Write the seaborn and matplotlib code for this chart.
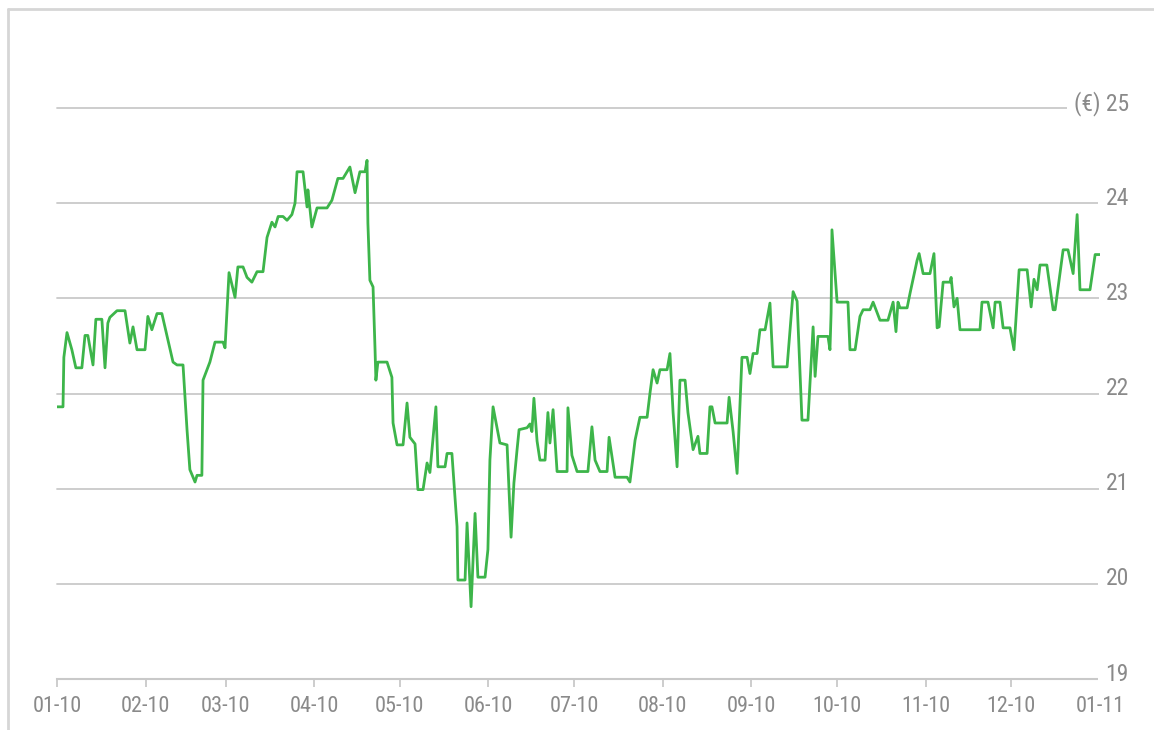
import pandas as pd
import matplotlib.pyplot as plt
import matplotlib.dates as mdates
import seaborn as sns

# days since 2010-01-01 and closing price (EUR)
days = [
    0, 2.1, 2.4, 3.5, 5.2, 6.6, 8.7, 9.8, 10.8, 12.6, 13.6, 15.7, 16.8, 17.8, 18.5,
    21.0, 23.8, 25.5, 26.6, 28.0, 30.8, 31.8, 33.2, 35.0, 36.7, 40.6, 42.0, 44.1,
    45.5, 46.5, 48.3, 49.0, 50.7, 51.1, 53.5, 55.3, 58.1, 58.8, 60.2, 62.3, 63.3,
    65.1, 66.5, 68.2, 70.0, 72.1, 73.5, 75.2, 76.3, 77.4, 79.1, 80.5, 82.2, 83.3,
    84.0, 86.1, 87.5, 87.8, 89.2, 91.0, 94.5, 96.2, 98.3, 100.1, 102.5, 104.3,
    106.0, 107.8, 108.5, 108.8, 109.5, 110.6, 111.3, 111.6, 112.3, 115.5, 117.2,
    117.6, 119.0, 121.1, 122.5, 123.5, 125.3, 126.3, 128.1, 129.5, 130.5, 132.6,
    133.3, 135.8, 136.5, 138.2, 140.0, 140.3, 142.8, 143.5, 144.9, 146.3, 147.3,
    149.8, 150.8, 151.5, 152.6, 155.0, 157.5, 158.9, 159.9, 161.0, 161.7, 164.5,
    165.5, 166.2, 166.9, 168.0, 169.0, 170.8, 171.8, 172.5, 173.6, 175.0, 178.5,
    178.8, 180.2, 182.0, 185.8, 187.2, 188.3, 190.0, 192.5, 193.2, 195.3, 199.5,
    200.5, 202.3, 204.0, 206.5, 207.5, 208.6, 210.0, 211.0, 213.5, 214.5, 215.6,
    217.0, 218.0, 219.8, 220.8, 222.6, 224.3, 225.0, 227.5, 228.5, 229.2, 230.3,
    234.5, 235.2, 236.6, 238.0, 239.7, 241.5, 242.5, 243.6, 245.0, 246.0, 247.8,
    249.5, 250.6, 255.5, 257.6, 259.0, 260.7, 262.8, 264.6, 265.3, 266.3, 269.8,
    270.5, 270.9, 271.2, 273.0, 276.8, 277.5, 279.3, 281.0, 282.1, 284.5, 285.6,
    288.0, 290.8, 292.6, 293.6, 294.3, 295.0, 297.5, 298.5, 301.0, 301.7, 303.1,
    305.5, 306.9, 308.0, 308.7, 310.1, 312.5, 312.9, 313.9, 315.0, 316.0, 323.0,
    323.7, 325.8, 327.6, 328.3, 330.0, 331.1, 333.5, 334.9, 336.7, 339.5, 340.9,
    341.9, 343.0, 344.0, 346.4, 348.6, 349.3, 352.1, 353.8, 355.6, 357.0, 358.0,
    361.5, 363.3, 365.0,
]
price = [
    21.86, 21.86, 22.38, 22.64, 22.46, 22.27, 22.27, 22.61, 22.61, 22.30, 22.78,
    22.78, 22.27, 22.74, 22.80, 22.87, 22.87, 22.53, 22.70, 22.46, 22.46, 22.81,
    22.67, 22.84, 22.84, 22.33, 22.30, 22.30, 21.62, 21.20, 21.07, 21.14, 21.14,
    22.14, 22.33, 22.54, 22.54, 22.48, 23.27, 23.01, 23.33, 23.33, 23.22, 23.17,
    23.28, 23.28, 23.64, 23.80, 23.75, 23.86, 23.86, 23.82, 23.88, 24.00, 24.33,
    24.33, 23.96, 24.14, 23.75, 23.95, 23.95, 24.03, 24.26, 24.26, 24.38, 24.11,
    24.33, 24.33, 24.45, 23.79, 23.19, 23.12, 22.46, 22.14, 22.33, 22.33, 22.17,
    21.69, 21.46, 21.46, 21.90, 21.54, 21.47, 20.99, 20.99, 21.27, 21.17, 21.86,
    21.23, 21.23, 21.37, 21.37, 20.60, 20.04, 20.04, 20.64, 19.76, 20.74, 20.07,
    20.07, 20.36, 21.30, 21.86, 21.48, 21.46, 20.49, 21.06, 21.41, 21.62, 21.64,
    21.68, 21.60, 21.95, 21.50, 21.30, 21.30, 21.80, 21.48, 21.83, 21.18, 21.18,
    21.85, 21.35, 21.18, 21.18, 21.65, 21.30, 21.18, 21.18, 21.54, 21.12, 21.12,
    21.07, 21.51, 21.75, 21.75, 22.00, 22.25, 22.11, 22.25, 22.25, 22.42, 21.80,
    21.23, 22.14, 22.14, 21.80, 21.41, 21.55, 21.37, 21.37, 21.86, 21.86, 21.69,
    21.69, 21.96, 21.60, 21.16, 22.38, 22.38, 22.21, 22.42, 22.42, 22.67, 22.67,
    22.95, 22.28, 22.28, 23.07, 22.97, 21.72, 21.72, 22.70, 22.18, 22.60, 22.60,
    22.46, 22.85, 23.72, 22.96, 22.96, 22.46, 22.46, 22.81, 22.88, 22.88, 22.96,
    22.77, 22.77, 22.96, 22.65, 22.96, 22.90, 22.90, 23.05, 23.40, 23.47, 23.26,
    23.26, 23.47, 22.69, 22.70, 23.17, 23.17, 23.22, 22.91, 23.00, 22.67, 22.67,
    22.96, 22.96, 22.69, 22.96, 22.96, 22.69, 22.69, 22.46, 23.30, 23.30, 22.91,
    23.20, 23.09, 23.35, 23.35, 22.88, 22.88, 23.51, 23.51, 23.26, 23.88, 23.09,
    23.09, 23.46, 23.46,
]
y_ticks = [19, 20, 21, 22, 23, 24, 25]
y_labels = ['19', '20', '21', '22', '23', '24', '(€) 25']

sns.set_style('white')
plt.rcParams['font.family'] = ['Roboto Condensed', 'DejaVu Sans']
plt.rcParams['font.stretch'] = 'condensed'

df = pd.DataFrame({
    'date': pd.Timestamp('2010-01-01') + pd.to_timedelta(days, unit='D'),
    'price': price,
})

grey = '#8a8a8a'
grid_grey = '#c9c9c9'
green = '#3db54a'

fig = plt.figure(figsize=(11.54, 7.3), dpi=100)
ax = fig.add_axes([57 / 1154, 51 / 730, 1043 / 1154, 571 / 730])

x0 = pd.Timestamp('2010-01-01')
x1 = pd.Timestamp('2011-01-01')
ax.set_xlim(x0, x1)
ax.set_ylim(19, 25)

# horizontal guide lines, running a little past the axes under the labels
for t in y_ticks[1:]:
    ax.plot([0, 1.03], [t, t], transform=ax.get_yaxis_transform(),
            color=grid_grey, lw=1.3, clip_on=False, zorder=1)

sns.lineplot(data=df, x='date', y='price', ax=ax, color=green, lw=2.0, zorder=3)

for t, lab in zip(y_ticks, y_labels):
    ax.annotate(lab, xy=(1.0277, t), xycoords=('axes fraction', 'data'),
                xytext=(0, 3.5), textcoords='offset points',
                ha='right', va='center', fontsize=17, color=grey,
                bbox=dict(boxstyle='square,pad=0.3', fc='white', ec='none'),
                zorder=5, annotation_clip=False)

for s in ['top', 'right', 'left']:
    ax.spines[s].set_visible(False)
ax.spines['bottom'].set_color(grid_grey)
ax.spines['bottom'].set_linewidth(1.5)

ax.set_yticks([])
ax.xaxis.set_major_locator(mdates.MonthLocator())
ax.xaxis.set_major_formatter(mdates.DateFormatter('%m-%y'))
ax.tick_params(axis='x', direction='out', length=6, width=1.3, color=grid_grey,
               labelsize=16, labelcolor=grey, pad=6, bottom=True)
ax.set_xlabel('')
ax.set_ylabel('')

# light frame at top and left of the figure
fig.add_artist(plt.Line2D([8 / 1154, 8 / 1154], [0, 1 - 9 / 730], color='#d6d6d6', lw=2))
fig.add_artist(plt.Line2D([8 / 1154, 1], [1 - 9 / 730, 1 - 9 / 730], color='#d6d6d6', lw=2))

fig.savefig('out.png', dpi=100, facecolor='white')
